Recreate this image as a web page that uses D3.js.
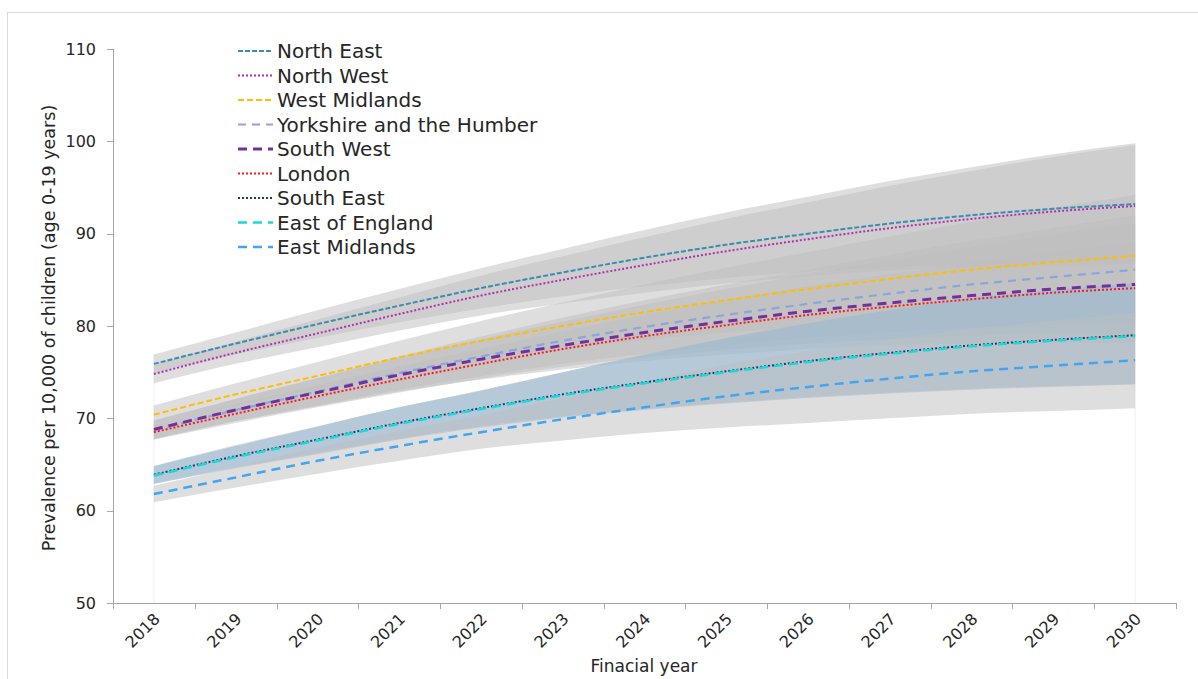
<!DOCTYPE html>
<html>
<head>
<meta charset="utf-8">
<script src="https://cdn.jsdelivr.net/npm/d3@7"></script>
<style>
  html, body { margin: 0; padding: 0; background: #fff; }
  svg { display: block; }
  text { font-family: "Century Gothic", "DejaVu Sans", sans-serif; fill: #262626; }
</style>
</head>
<body>
<svg id="chart" width="1198" height="679"></svg>
<script>
// ---------- DATA ----------
const years = [2018, 2019, 2020, 2021, 2022, 2023, 2024, 2025, 2026, 2027, 2028, 2029, 2030];
const yTicks = [50, 60, 70, 80, 90, 100, 110];

const northEast     = [75.9, 78.1, 80.2, 82.2, 84.1, 85.8, 87.4, 88.8, 90.0, 91.1, 92.0, 92.7, 93.2];
const northEastLo   = [74.9, 76.9, 78.7, 80.4, 81.9, 83.2, 84.3, 85.2, 85.9, 86.4, 86.7, 86.9, 87.0];
const northEastHi   = [76.9, 79.3, 81.7, 84.0, 86.25, 88.35, 90.4, 92.3, 94.0, 95.7, 97.2, 98.6, 99.8];

const northWest     = [74.8, 77.1, 79.2, 81.3, 83.3, 85.0, 86.6, 88.1, 89.4, 90.6, 91.6, 92.4, 93.0];
const northWestLo   = [73.8, 75.9, 77.7, 79.5, 81.15, 82.45, 83.6, 84.6, 85.4, 86.0, 86.4, 86.6, 86.7];
const northWestHi   = [75.8, 78.3, 80.7, 83.1, 85.45, 87.55, 89.6, 91.6, 93.4, 95.2, 96.8, 98.3, 99.6];

const westMidlands   = [70.4, 72.6, 74.6, 76.6, 78.4, 80.0, 81.5, 82.8, 84.0, 85.1, 86.1, 86.9, 87.6];
const westMidlandsLo = [69.4, 71.4, 73.1, 74.8, 76.25, 77.45, 78.5, 79.3, 80.0, 80.5, 80.9, 81.0, 81.0];
const westMidlandsHi = [71.4, 73.8, 76.1, 78.4, 80.55, 82.55, 84.5, 86.3, 88.0, 89.7, 91.3, 92.8, 94.2];

const yorkshire     = [68.7, 70.9, 72.9, 74.9, 76.7, 78.4, 79.9, 81.2, 82.4, 83.5, 84.5, 85.3, 86.1];
const yorkshireLo   = [67.7, 69.7, 71.4, 73.1, 74.55, 75.9, 77.0, 77.9, 78.7, 79.3, 79.8, 80.1, 80.3];
const yorkshireHi   = [69.7, 72.1, 74.4, 76.7, 78.85, 80.9, 82.8, 84.5, 86.1, 87.7, 89.2, 90.6, 92.0];

const southWest     = [68.8, 70.9, 72.8, 74.7, 76.4, 77.9, 79.3, 80.5, 81.6, 82.5, 83.3, 84.0, 84.5];
const southWestLo   = [67.8, 69.7, 71.3, 72.9, 74.2, 75.3, 76.2, 76.9, 77.5, 77.9, 78.1, 78.2, 78.2];
const southWestHi   = [69.8, 72.1, 74.3, 76.5, 78.55, 80.45, 82.3, 84.0, 85.6, 87.1, 88.5, 89.9, 91.1];

const london        = [68.5, 70.5, 72.4, 74.2, 75.9, 77.5, 78.9, 80.1, 81.2, 82.1, 82.9, 83.6, 84.1];
const londonLo      = [67.7, 69.5, 71.2, 72.8, 74.3, 75.6, 76.6, 77.4, 78.1, 78.6, 79.0, 79.2, 79.2];
const londonHi      = [69.3, 71.5, 73.6, 75.6, 77.5, 79.4, 81.2, 82.8, 84.3, 85.6, 86.8, 88.0, 89.0];

const southEast     = [63.9, 65.9, 67.7, 69.5, 71.1, 72.6, 73.9, 75.1, 76.2, 77.1, 77.9, 78.5, 79.0];
const southEastLo   = [62.95, 64.7, 66.25, 67.8, 69.15, 70.2, 71.0, 71.7, 72.3, 72.8, 73.2, 73.5, 73.7];
const southEastHi   = [64.85, 67.1, 69.15, 71.2, 73.05, 75.0, 76.8, 78.5, 80.1, 81.4, 82.6, 83.5, 84.3];

const eastEngland   = [63.8, 65.8, 67.6, 69.4, 71.0, 72.5, 73.8, 75.0, 76.1, 77.0, 77.8, 78.4, 78.9];
const eastEnglandLo = [62.9, 64.6, 66.1, 67.7, 69.0, 70.1, 70.9, 71.6, 72.2, 72.7, 73.1, 73.4, 73.7];
const eastEnglandHi = [64.8, 67.0, 69.1, 71.2, 73.0, 75.0, 76.9, 78.7, 80.3, 81.7, 83.0, 83.9, 84.6];

const eastMidlands   = [61.8, 63.6, 65.4, 67.0, 68.5, 69.9, 71.2, 72.4, 73.4, 74.3, 75.1, 75.7, 76.3];
const eastMidlandsLo = [60.9, 62.5, 64.0, 65.4, 66.7, 67.6, 68.4, 69.0, 69.5, 70.0, 70.5, 70.8, 71.1];
const eastMidlandsHi = [62.7, 64.7, 66.8, 68.6, 70.3, 72.2, 74.0, 75.8, 77.3, 78.6, 79.7, 80.6, 81.5];

const seriesNames = ["North East", "North West", "West Midlands", "Yorkshire and the Humber",
  "South West", "London", "South East", "East of England", "East Midlands"];

// ---------- STYLES ----------
const series = [
  { name: seriesNames[0], v: northEast,    lo: northEastLo,    hi: northEastHi,    color: "#3a8db0", dash: "5,2",  w: 2,   band: "gray" },
  { name: seriesNames[1], v: northWest,    lo: northWestLo,    hi: northWestHi,    color: "#b12fb1", dash: "2,2",  w: 2,   band: "gray" },
  { name: seriesNames[2], v: westMidlands, lo: westMidlandsLo, hi: westMidlandsHi, color: "#ffbe00", dash: "6,3",  w: 2,   band: "gray" },
  { name: seriesNames[3], v: yorkshire,    lo: yorkshireLo,    hi: yorkshireHi,    color: "#8aa6da", dash: "8,6",  w: 2.2, band: "gray" },
  { name: seriesNames[4], v: southWest,    lo: southWestLo,    hi: southWestHi,    color: "#7030a0", dash: "9,6",  w: 3,   band: "gray" },
  { name: seriesNames[5], v: london,       lo: londonLo,       hi: londonHi,       color: "#ff1a1a", dash: "2,2",  w: 2,   band: "gray" },
  { name: seriesNames[6], v: southEast,    lo: southEastLo,    hi: southEastHi,    color: "#1f3864", dash: "2,2",  w: 2,   band: "gray" },
  { name: seriesNames[7], v: eastEngland,  lo: eastEnglandLo,  hi: eastEnglandHi,  color: "#19d8d8", dash: "9,6",  w: 2.5, band: "blue" },
  { name: seriesNames[8], v: eastMidlands, lo: eastMidlandsLo, hi: eastMidlandsHi, color: "#3fa6f2", dash: "9,6",  w: 2.5, band: "gray" }
];

// ---------- LAYOUT ----------
const svg = d3.select("#chart");
const plot = { left: 113, right: 1176, top: 49, bottom: 603 };

const x = d3.scaleBand().domain(years).range([plot.left, plot.right]).paddingInner(0).paddingOuter(0);
const xc = d => x(d) + x.bandwidth() / 2;
const y = d3.scaleLinear().domain([50, 110]).range([plot.bottom, plot.top]);

// chart border
svg.append("rect").attr("x", 7.5).attr("y", 12.5).attr("width", 1250).attr("height", 700)
  .attr("fill", "none").attr("stroke", "#d9d9d9").attr("stroke-width", 1);

// faint band edges
[years[0], years[years.length - 1]].forEach(yr => {
  svg.append("line").attr("x1", xc(yr)).attr("x2", xc(yr))
    .attr("y1", y(yr === years[0] ? 77 : 99.8)).attr("y2", plot.bottom)
    .attr("stroke", "#efefef").attr("stroke-width", 1);
});

// ---------- BANDS ----------
const area = d3.area()
  .x((d, i) => xc(years[i]))
  .y0(d => y(d[0]))
  .y1(d => y(d[1]))
  .curve(d3.curveMonotoneX);

const bandG = svg.append("g");
series.forEach(s => {
  const pts = s.lo.map((l, i) => [l, s.hi[i]]);
  bandG.append("path").datum(pts).attr("d", area)
    .attr("fill", s.band === "blue" ? "#94b8d3" : "#bdbdbd")
    .attr("fill-opacity", s.band === "blue" ? 0.55 : 0.5);
});

// ---------- AXES ----------
const axisColor = "#a6a6a6";
const axG = svg.append("g");
// y axis
axG.append("line").attr("x1", plot.left + 0.5).attr("x2", plot.left + 0.5)
  .attr("y1", plot.top).attr("y2", plot.bottom).attr("stroke", axisColor);
yTicks.forEach(t => {
  axG.append("line").attr("x1", plot.left - 6).attr("x2", plot.left)
    .attr("y1", Math.round(y(t)) + 0.5).attr("y2", Math.round(y(t)) + 0.5).attr("stroke", axisColor);
  axG.append("text").attr("x", plot.left - 17).attr("y", y(t)).attr("dy", "0.35em")
    .attr("text-anchor", "end").style("font-size", "16px").text(t);
});
// x axis
axG.append("line").attr("x1", plot.left).attr("x2", plot.right)
  .attr("y1", plot.bottom + 0.5).attr("y2", plot.bottom + 0.5).attr("stroke", axisColor);
const tickPos = years.map(d => x(d)).concat([x(years[years.length - 1]) + x.bandwidth()]);
tickPos.forEach(p => {
  axG.append("line").attr("x1", Math.round(p) + 0.5).attr("x2", Math.round(p) + 0.5)
    .attr("y1", plot.bottom).attr("y2", plot.bottom + 6).attr("stroke", axisColor);
});
years.forEach(yr => {
  axG.append("text")
    .attr("transform", `translate(${xc(yr) + 7},${plot.bottom + 17}) rotate(-45)`)
    .attr("text-anchor", "end").style("font-size", "16px").text(yr);
});

// axis titles
svg.append("text").attr("x", 644).attr("y", 672).attr("text-anchor", "middle")
  .style("font-size", "17px").text("Finacial year");
svg.append("text").attr("transform", "translate(55,328) rotate(-90)").attr("text-anchor", "middle")
  .style("font-size", "17.5px").text("Prevalence per 10,000 of children (age 0-19 years)");

// ---------- LINES ----------
const line = d3.line().x((d, i) => xc(years[i])).y(d => y(d)).curve(d3.curveMonotoneX);
const lineG = svg.append("g");
series.forEach(s => {
  lineG.append("path").datum(s.v).attr("d", line)
    .attr("fill", "none").attr("stroke", s.color).attr("stroke-width", s.w)
    .attr("stroke-dasharray", s.dash);
});

// ---------- LEGEND ----------
const leg = svg.append("g");
series.forEach((s, i) => {
  const cy = 51 + i * 24.5;
  leg.append("line").attr("x1", 238).attr("x2", 273).attr("y1", cy).attr("y2", cy)
    .attr("stroke", s.color).attr("stroke-width", s.w).attr("stroke-dasharray", s.dash);
  leg.append("text").attr("x", 277).attr("y", cy).attr("dy", "0.36em")
    .style("font-size", "20px").text(s.name);
});
</script>
</body>
</html>
